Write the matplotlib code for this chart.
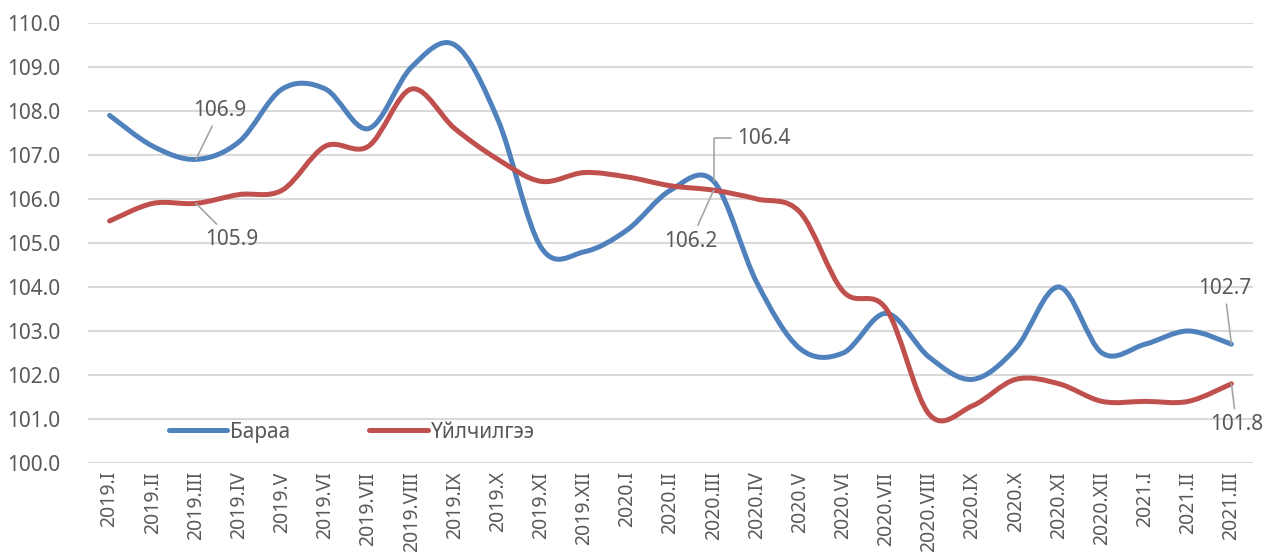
import matplotlib
matplotlib.use('Agg')
import matplotlib.pyplot as plt
from matplotlib.path import Path
from matplotlib.patches import PathPatch
from matplotlib.lines import Line2D

plt.rcParams['font.family'] = ['Noto Sans', 'DejaVu Sans']

months = ['2019.I', '2019.II', '2019.III', '2019.IV', '2019.V', '2019.VI', '2019.VII',
          '2019.VIII', '2019.IX', '2019.X', '2019.XI', '2019.XII',
          '2020.I', '2020.II', '2020.III', '2020.IV', '2020.V', '2020.VI', '2020.VII',
          '2020.VIII', '2020.IX', '2020.X', '2020.XI', '2020.XII',
          '2021.I', '2021.II', '2021.III']
baraa = [107.9, 107.2, 106.9, 107.3, 108.5, 108.5, 107.6, 109.0, 109.5, 107.8, 104.9, 104.8,
         105.3, 106.2, 106.4, 104.1, 102.6, 102.5, 103.4, 102.4, 101.9, 102.6, 104.0, 102.5,
         102.7, 103.0, 102.7]
uilchilgee = [105.5, 105.9, 105.9, 106.1, 106.2, 107.2, 107.2, 108.5, 107.6, 106.9, 106.4, 106.6,
              106.5, 106.3, 106.2, 106.0, 105.7, 103.9, 103.5, 101.1, 101.3, 101.9, 101.8, 101.4,
              101.4, 101.4, 101.8]

blue = '#4F81BD'
red = '#C0504D'
txt = '#595959'
fs = 15


def smooth_path(ys):
    # excel-like smoothed line: cubic bezier through every point
    n = len(ys)
    verts = [(0, ys[0])]
    codes = [Path.MOVETO]
    for i in range(n - 1):
        p0 = (i - 1, ys[i - 1]) if i > 0 else (i, ys[i])
        p1 = (i, ys[i])
        p2 = (i + 1, ys[i + 1])
        p3 = (i + 2, ys[i + 2]) if i + 2 < n else p2
        c1 = (p1[0] + (p2[0] - p0[0]) / 6, p1[1] + (p2[1] - p0[1]) / 6)
        c2 = (p2[0] - (p3[0] - p1[0]) / 6, p2[1] - (p3[1] - p1[1]) / 6)
        verts += [c1, c2, p2]
        codes += [Path.CURVE4] * 3
    return Path(verts, codes)


fig = plt.figure(figsize=(12.63, 5.58), dpi=100)
ax = fig.add_axes([0.0697, 0.1703, 0.9224, 0.7885])

for ys, c in [(baraa, blue), (uilchilgee, red)]:
    ax.add_patch(PathPatch(smooth_path(ys), facecolor='none', edgecolor=c,
                           lw=3.6, capstyle='round', joinstyle='round', zorder=3))

ax.set_xlim(-0.5, len(months) - 0.5)
ax.set_ylim(100, 110)
ax.set_yticks([100 + i for i in range(11)])
ax.set_yticklabels(['%.1f' % (100 + i) for i in range(11)])
ax.set_xticks(range(len(months)))
ax.set_xticklabels(months, rotation=90)
ax.tick_params(axis='both', length=0, colors=txt, labelsize=fs)
ax.tick_params(axis='y', pad=20)
ax.tick_params(axis='x', pad=6, labelsize=14)
ax.grid(axis='y', color='#D9D9D9', lw=1.5)
ax.set_axisbelow(True)
for s in ax.spines.values():
    s.set_visible(False)

handles = [Line2D([], [], color=blue, lw=3.6, solid_capstyle='round'),
           Line2D([], [], color=red, lw=3.6, solid_capstyle='round')]
ax.legend(handles, ['Бараа', 'Үйлчилгээ'], ncol=2, frameon=False, loc='center left',
          bbox_to_anchor=(0.053, 0.07), fontsize=fs, labelcolor=txt,
          handlelength=2.8, handletextpad=0.15, columnspacing=3.8)

lead = dict(arrowstyle='-', color='#A6A6A6', lw=1.2, shrinkA=2, shrinkB=0)
labels = [
    (baraa, 2, (24, 49), 'center', None),
    (uilchilgee, 2, (36, -36), 'center', None),
    (baraa, 14, (23, 43), 'left', 'angle,angleA=0,angleB=90,rad=0'),
    (uilchilgee, 14, (-23, -51), 'center', None),
    (baraa, 26, (-7, 56), 'center', None),
    (uilchilgee, 26, (5, -41), 'center', None),
]
for ys, i, off, ha, cs in labels:
    ap = dict(lead)
    if cs:
        ap['connectionstyle'] = cs
    ax.annotate('%.1f' % ys[i], xy=(i, ys[i]), xytext=off, textcoords='offset pixels',
                ha=ha, va='center', fontsize=fs, color=txt, arrowprops=ap,
                annotation_clip=False, zorder=4)

fig.savefig('out.png', dpi=100)
